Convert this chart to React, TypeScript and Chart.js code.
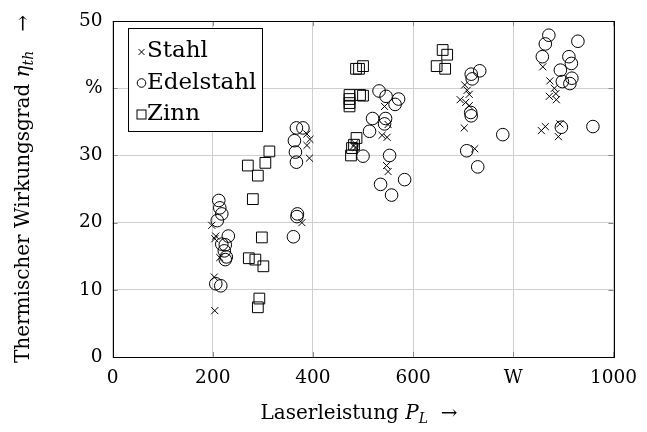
import React, { useEffect, useRef } from "react";
import { Chart, registerables } from "chart.js";

Chart.register(...registerables);

// ---- data ----
const seriesNames = ["Stahl", "Edelstahl", "Zinn"];

const stahlX = [198, 206, 204, 214, 203, 204, 378, 388, 394, 388, 393, 484, 481, 486, 543, 550, 538, 548, 547, 550, 703, 708, 712, 694, 705, 712, 702, 723, 859, 873, 882, 885, 872, 886, 856, 864, 893, 890];
const stahlY = [19.6, 18.0, 17.6, 14.8, 11.9, 6.9, 20.0, 33.2, 32.4, 31.5, 29.6, 31.8, 31.4, 31.2, 37.3, 34.6, 33.0, 32.7, 28.5, 27.6, 40.5, 39.7, 39.1, 38.3, 37.9, 37.4, 34.1, 31.0, 43.2, 41.1, 40.0, 39.2, 38.8, 38.3, 33.7, 34.3, 34.7, 32.8];

const edelX = [212, 214, 218, 209, 231, 218, 225, 223, 227, 225, 206, 216, 369, 368, 361, 367, 380, 363, 365, 367, 500, 519, 513, 532, 546, 571, 564, 545, 543, 553, 535, 557, 583, 733, 716, 718, 715, 716, 779, 707, 729, 871, 864, 858, 929, 911, 916, 894, 917, 913, 898, 896, 959];
const edelY = [23.3, 22.2, 21.3, 20.3, 18.0, 16.8, 16.7, 15.8, 14.9, 14.5, 10.9, 10.6, 21.3, 20.9, 17.9, 34.1, 34.1, 32.2, 30.5, 29.0, 29.9, 35.5, 33.6, 39.6, 38.8, 38.4, 37.6, 35.5, 34.7, 30.0, 25.7, 24.1, 26.4, 42.6, 42.1, 41.4, 36.4, 35.9, 33.1, 30.7, 28.3, 47.9, 46.6, 44.7, 47.0, 44.7, 43.7, 42.7, 41.5, 40.7, 41.0, 34.2, 34.3];

const zinnX = [290, 280, 298, 272, 285, 301, 293, 290, 313, 305, 270, 476, 482, 487, 478, 473, 473, 473, 473, 494, 500, 486, 500, 492, 659, 668, 647, 664];
const zinnY = [27.0, 23.5, 17.8, 14.7, 14.5, 13.5, 8.7, 7.4, 30.6, 28.9, 28.5, 30.0, 31.6, 32.6, 31.1, 39.0, 38.4, 37.8, 37.3, 39.0, 38.9, 42.9, 43.3, 42.9, 45.7, 45.0, 43.3, 42.9];

const xTickValues = [0, 200, 400, 600, 800, 1000];
const xTickLabels = ["0", "200", "400", "600", "W", "1000"];
const yTickValues = [0, 10, 20, 30, 40, 50];
const yTickLabels = ["0", "10", "20", "30", "%", "50"];

const FONT = "'DejaVu Serif', serif";

type Seg = { t: string; size: number; italic?: boolean; dy?: number };

function drawSegs(ctx: CanvasRenderingContext2D, segs: Seg[], x: number, y: number) {
  let total = 0;
  const widths: number[] = [];
  for (const s of segs) {
    ctx.font = `${s.italic ? "italic " : ""}${s.size}px ${FONT}`;
    const w = ctx.measureText(s.t).width;
    widths.push(w);
    total += w;
  }
  let cx = x - total / 2;
  segs.forEach((s, i) => {
    ctx.font = `${s.italic ? "italic " : ""}${s.size}px ${FONT}`;
    ctx.fillText(s.t, cx, y + (s.dy || 0));
    cx += widths[i];
  });
}

const decorPlugin = {
  id: "decor",
  afterDatasetsDraw(chart: any) {
    const ctx: CanvasRenderingContext2D = chart.ctx;
    const a = chart.chartArea;
    const xs = chart.scales.x;
    const ys = chart.scales.y;
    ctx.save();
    // tick marks on all four sides
    ctx.strokeStyle = "#8a8a8a";
    ctx.lineWidth = 1;
    ctx.beginPath();
    for (const v of xTickValues) {
      const px = Math.round(xs.getPixelForValue(v)) + 0.5;
      ctx.moveTo(px, a.bottom);
      ctx.lineTo(px, a.bottom - 5);
      ctx.moveTo(px, a.top);
      ctx.lineTo(px, a.top + 5);
    }
    for (const v of yTickValues) {
      const py = Math.round(ys.getPixelForValue(v)) + 0.5;
      ctx.moveTo(a.left, py);
      ctx.lineTo(a.left + 5, py);
      ctx.moveTo(a.right, py);
      ctx.lineTo(a.right - 5, py);
    }
    ctx.stroke();
    // frame
    ctx.strokeStyle = "#000";
    ctx.strokeRect(Math.round(a.left) + 0.5, Math.round(a.top) + 0.5, Math.round(a.right - a.left), Math.round(a.bottom - a.top));

    // legend box
    const lx = 128.5, ly = 28.5, lw = 134, lh = 103;
    ctx.fillStyle = "#fff";
    ctx.fillRect(lx, ly, lw, lh);
    ctx.strokeStyle = "#000";
    ctx.strokeRect(lx, ly, lw, lh);
    const rows = [52, 83, 114.5];
    const bases = [57, 88.5, 120];
    ctx.lineWidth = 1;
    // cross
    ctx.beginPath();
    const mx = 141.5;
    ctx.moveTo(mx - 3, rows[0] - 3);
    ctx.lineTo(mx + 3, rows[0] + 3);
    ctx.moveTo(mx + 3, rows[0] - 3);
    ctx.lineTo(mx - 3, rows[0] + 3);
    ctx.stroke();
    // circle
    ctx.beginPath();
    ctx.arc(mx, rows[1], 4.3, 0, Math.PI * 2);
    ctx.stroke();
    // square
    ctx.strokeRect(mx - 4.5, rows[2] - 4.5, 9, 9);
    ctx.fillStyle = "#000";
    ctx.textAlign = "left";
    ctx.textBaseline = "alphabetic";
    ctx.font = `23px ${FONT}`;
    seriesNames.forEach((n, i) => ctx.fillText(n, 147, bases[i]));

    // x title
    ctx.textAlign = "left";
    drawSegs(ctx, [
      { t: "Laserleistung ", size: 20 },
      { t: "P", size: 20, italic: true },
      { t: "L", size: 14, italic: true, dy: 4 },
      { t: "  \u2192", size: 20 },
    ], (a.left + a.right) / 2 - 4, 419);

    // y title (rotated)
    ctx.save();
    ctx.translate(29, (a.top + a.bottom) / 2);
    ctx.rotate(-Math.PI / 2);
    drawSegs(ctx, [
      { t: "Thermischer Wirkungsgrad ", size: 20 },
      { t: "\u03B7", size: 20, italic: true },
      { t: "th", size: 14, italic: true, dy: 4 },
      { t: "   \u2192", size: 20 },
    ], 0, 0);
    ctx.restore();
    ctx.restore();
  },
};

export default function App() {
  const ref = useRef<HTMLCanvasElement | null>(null);
  useEffect(() => {
    if (!ref.current) return;
    const mk = (xs: number[], ys: number[]) => xs.map((x, i) => ({ x, y: ys[i] }));
    const font = { family: FONT, size: 18.5 };
    const chart = new Chart(ref.current, {
      type: "scatter",
      data: {
        datasets: [
          { label: seriesNames[0], data: mk(stahlX, stahlY), pointStyle: "crossRot", pointRadius: 5, borderColor: "#000", backgroundColor: "rgba(0,0,0,0)", borderWidth: 1 },
          { label: seriesNames[1], data: mk(edelX, edelY), pointStyle: "circle", pointRadius: 6.3, borderColor: "#000", backgroundColor: "rgba(0,0,0,0)", borderWidth: 1 },
          { label: seriesNames[2], data: mk(zinnX, zinnY), pointStyle: "rect", pointRadius: 7.6, borderColor: "#000", backgroundColor: "rgba(0,0,0,0)", borderWidth: 1 },
        ],
      },
      options: {
        animation: false,
        responsive: false,
        events: [],
        layout: { padding: { top: 19, right: 25.4, left: 0, bottom: 0 } },
        plugins: { legend: { display: false }, tooltip: { enabled: false } },
        scales: {
          x: {
            type: "linear",
            min: 0,
            max: 1000,
            afterBuildTicks: (s: any) => { s.ticks = xTickValues.map((v) => ({ value: v })); },
            afterFit: (s: any) => { s.height = 432 - 357; },
            ticks: { callback: (_v: any, i: number) => xTickLabels[i], font, color: "#000", maxRotation: 0, padding: 10 },
            grid: { color: "#cfcfcf", drawTicks: false },
            border: { display: false },
          },
          y: {
            type: "linear",
            min: 0,
            max: 50,
            afterBuildTicks: (s: any) => { s.ticks = yTickValues.map((v) => ({ value: v })); },
            afterFit: (s: any) => { s.width = 112.6; },
            ticks: { callback: (_v: any, i: number) => yTickLabels[i], font, color: "#000", padding: 10 },
            grid: { color: "#cfcfcf", drawTicks: false },
            border: { display: false },
          },
        },
      },
      plugins: [decorPlugin],
    } as any);
    return () => chart.destroy();
  }, []);
  return (
    <div style={{ position: "absolute", left: 0, top: 0, width: 647, height: 432, background: "#fff" }}>
      <canvas ref={ref} width={647} height={432} style={{ display: "block", width: 647, height: 432 }} />
    </div>
  );
}
